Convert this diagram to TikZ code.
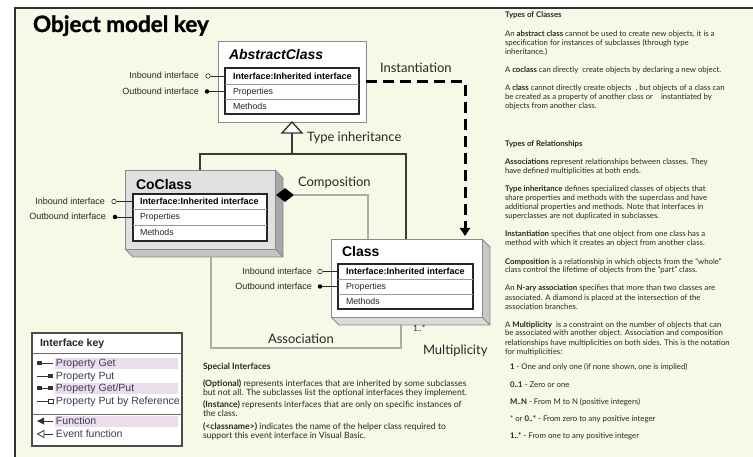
\documentclass[tikz,border=0pt]{standalone}
\usepackage{fontspec}
\setmainfont{Lato}
\newfontfamily\arialf{Liberation Sans}
\newfontfamily\titlef{Lato}[BoldFeatures={FakeBold=1.2}]
\usetikzlibrary{arrows.meta,shapes.geometric}
\definecolor{cream}{HTML}{F8F8E7}
\definecolor{framec}{HTML}{2E2E2E}
\definecolor{boxline}{HTML}{8A8A8A}
\definecolor{tabline}{HTML}{262626}
\definecolor{rowline}{HTML}{9A9A9A}
\definecolor{gline}{HTML}{ABABAB}
\definecolor{cofront}{HTML}{E0E0E0}
\definecolor{coright}{HTML}{A8A8A8}
\definecolor{cobottom}{HTML}{C4C4C4}
\definecolor{clright}{HTML}{C8C8C8}
\definecolor{clbottom}{HTML}{DADADA}
\definecolor{txt}{HTML}{262626}
\definecolor{keytxt}{HTML}{3B3B58}
\definecolor{keyhl}{HTML}{EBDDEB}
\definecolor{inhline}{HTML}{3A3A3A}
\newcommand\setfs[2]{\fontsize{#1}{#2}\selectfont}
\begin{document}
\begin{tikzpicture}[x=1pt,y=-1pt,
  plain/.style={inner sep=0pt, outer sep=0pt},
  biglbl/.style={plain, anchor=base west, font=\setfs{13}{15}, text=black!85},
  ifacelbl/.style={plain, anchor=base east, font=\arialf\setfs{9}{11}, text=txt},
  rowtxt/.style={plain, anchor=base west, font=\arialf\setfs{8.8}{10}, text=txt},
  rowbold/.style={plain, anchor=base west, font=\arialf\bfseries\setfs{9}{10}, text=black},
  clstitle/.style={plain, anchor=base west, font=\arialf\bfseries\setfs{14}{16}, text=black},
  tabbox/.style={plain, draw=tabline, line width=1.3pt, fill=white, anchor=north west},
  inport/.style={circle, draw=txt, fill=white, line width=0.6pt, inner sep=0pt, minimum size=4.5pt},
  outport/.style={circle, fill=black, inner sep=0pt, minimum size=4.5pt},
  portline/.style={draw=txt, line width=0.7pt},
  bodytxt/.style={plain, anchor=base west, align=left, font=\setfs{7.8}{9}, text=txt},
  bodyhead/.style={plain, anchor=base west, font=\bfseries\setfs{7.8}{9}, text=txt},
  sitxt/.style={plain, anchor=base west, align=left, font=\setfs{8.65}{9}, text=txt},
  keytext/.style={plain, anchor=base west, font=\arialf\setfs{10.5}{12}, text=keytxt},
  inhl/.style={draw=inhline, line width=1.4pt},
  compl/.style={draw=gline, line width=2pt},
  assocl/.style={draw=gline, line width=2pt},
  instl/.style={draw=black, line width=3pt, dash pattern=on 11pt off 6pt, -{Triangle[length=8pt,width=10pt]}},
]
\useasboundingbox (0,0) rectangle (753,457);
\fill[white] (0,0) rectangle (753,457);
\fill[cream] (15,8) rectangle (770,470);
\draw[framec, line width=2pt] (15,470) -- (15,8) -- (770,8);

% title
\node[plain, anchor=base west, font=\titlef\bfseries\setfs{22.5}{25}, text=black] (title) at (33,32) {Object model key};

% ---------- AbstractClass ----------
\node[plain, draw=boxline, line width=0.8pt, fill=white, minimum width=148pt, minimum height=81pt, anchor=north west] (abs) at (218,41) {};
\node[plain, anchor=base west, font=\arialf\bfseries\itshape\setfs{14}{16}, text=black] (abstitle) at (229,60) {AbstractClass};
\node[tabbox, minimum width=134pt, minimum height=46pt] (abst) at (225,68) {};
\draw[rowline, line width=0.6pt] (225,84) -- (359,84) (225,99) -- (359,99);
\node[rowbold] (abs1) at (233,79.2) {Interface:Inherited interface};
\node[rowtxt] (abs2) at (233,94.5) {Properties};
\node[rowtxt] (abs3) at (233,109.5) {Methods};
\node[inport] (absin) at (208,76) {};
\node[outport] (absout) at (207,91.5) {};
\draw[portline] (absin) -- (absin -| abst.west);
\draw[portline] (absout) -- (absout -| abst.west);
\node[ifacelbl] (absinl) at (199,79) {Inbound interface};
\node[ifacelbl] (absoutl) at (199,94.5) {Outbound interface};

% ---------- CoClass ----------
\fill[coright] (275,170) -- (283,178) -- (283,257) -- (275,249) -- cycle;
\fill[cobottom] (125,249) -- (275,249) -- (283,257) -- (133,257) -- cycle;
\draw[boxline, line width=0.8pt] (275,170) -- (283,178) -- (283,257) -- (133,257) -- (125,249) (275,249) -- (283,257);
\node[plain, minimum width=150pt, minimum height=79pt, anchor=north west] (coback) at (133,178) {};
\node[plain, draw=boxline, line width=0.8pt, fill=cofront, minimum width=150pt, minimum height=79pt, anchor=north west] (co) at (125,170) {};
\node[clstitle] (cotitle) at (136,190) {CoClass};
\node[tabbox, minimum width=134pt, minimum height=47pt] (cot) at (133,194) {};
\draw[rowline, line width=0.6pt] (133,209) -- (267,209) (133,225) -- (267,225);
\node[rowbold] (co1) at (140,204.7) {Interface:Inherited interface};
\node[rowtxt] (co2) at (140,220) {Properties};
\node[rowtxt] (co3) at (140,236) {Methods};
\node[inport] (coin) at (114,201.5) {};
\node[outport] (coout) at (115,217) {};
\draw[portline] (coin) -- (coin -| cot.west);
\draw[portline] (coout) -- (coout -| cot.west);
\node[ifacelbl] (coinl) at (105,204.5) {Inbound interface};
\node[ifacelbl] (cooutl) at (106,220) {Outbound interface};

% ---------- Class ----------
\fill[clright] (482,239) -- (490,247) -- (490,325) -- (482,317) -- cycle;
\fill[clbottom] (331,317) -- (482,317) -- (490,325) -- (339,325) -- cycle;
\draw[boxline, line width=0.8pt] (482,239) -- (490,247) -- (490,325) -- (339,325) -- (331,317) (482,317) -- (490,325);
\node[plain, minimum width=151pt, minimum height=78pt, anchor=north west] (clback) at (339,247) {};
\node[plain, draw=boxline, line width=0.8pt, fill=white, minimum width=151pt, minimum height=78pt, anchor=north west] (cl) at (331,239) {};
\node[clstitle] (cltitle) at (342,257) {Class};
\node[tabbox, minimum width=135pt, minimum height=45pt] (clt) at (338,264) {};
\draw[rowline, line width=0.6pt] (338,279) -- (473,279) (338,294) -- (473,294);
\node[rowbold] (cl1) at (346,274.7) {Interface:Inherited interface};
\node[rowtxt] (cl2) at (346,289.5) {Properties};
\node[rowtxt] (cl3) at (346,304.5) {Methods};
\node[inport] (clin) at (320,271.5) {};
\node[outport] (clout) at (320,286.5) {};
\draw[portline] (clin) -- (clin -| clt.west);
\draw[portline] (clout) -- (clout -| clt.west);
\node[ifacelbl] (clinl) at (312,274.5) {Inbound interface};
\node[ifacelbl] (cloutl) at (312,289.5) {Outbound interface};

% ---------- Type inheritance ----------
\coordinate (tib) at (292,133);
\coordinate (tiL) at (200,154);
\coordinate (tiR) at (406,154);
\draw[inhl] (tib) -- (tib |- tiL);
\draw[inhl] (co.north -| tiL) -- (tiL) -- (tiR) -- (tiR |- cl.north);
\draw[inhl, fill=white, line join=miter] (abs.south) -- ++(-10,11) -- ++(20,0) -- cycle;
\node[biglbl] (tilbl) at (307,142) {Type inheritance};

% ---------- Composition ----------
\node[diamond, fill=black, inner sep=0pt, minimum width=18pt, minimum height=14pt] (dia) at (285,195) {};
\coordinate (compR) at (368,195);
\draw[compl] (dia.east) -- (compR) -- (compR |- cl.north);
\node[biglbl] (complbl) at (298,187) {Composition};

% ---------- Instantiation ----------
\coordinate (instC) at (465,82);
\draw[instl, shorten >=3pt] (abs.east |- instC) -- (instC) -- (instC |- cl.north);
\node[biglbl] (instlbl) at (380,73) {Instantiation};

% ---------- Association ----------
\coordinate (asL) at (211,348);
\coordinate (asR) at (401,348);
\draw[assocl] (coback.south -| asL) -- (asL) -- (asR) -- (asR |- clback.south);
\node[biglbl] (aslbl) at (268,344) {Association};
\node[plain, anchor=base west, font=\setfs{8.5}{10}, text=txt] (mult1) at (413,331) {1..*};
\node[biglbl] (multlbl) at (423,355) {Multiplicity};

% ---------- Interface key ----------
\node[plain, draw=black!70, line width=1.2pt, fill=white, minimum width=150pt, minimum height=113pt, anchor=north west] (key) at (32,333) {};
\fill[keyhl] (55,357.5) rectangle (178,368.5);
\fill[keyhl] (55,382.5) rectangle (178,393.5);
\fill[keyhl] (55,415.5) rectangle (178,426.5);
\node[plain, anchor=base west, font=\arialf\bfseries\setfs{10.5}{12}, text=black!85] (keyt) at (40,347) {Interface key};
\draw[black!60, line width=0.8pt] (key.west |- 0,353) -- (key.east |- 0,353);
\draw[black!60, line width=0.8pt] (key.west |- 0,414) -- (key.east |- 0,414);
\begin{scope}[line width=1pt, black!80]
\fill (37,361) rectangle (42,365); \draw (42,363) -- (53,363);
\draw (37,376) -- (48,376); \fill (48,374) rectangle (53,378);
\fill (37,386) rectangle (42,390); \draw (42,388) -- (48,388); \fill (48,386) rectangle (53,390);
\draw (37,401) -- (48.5,401); \draw[line width=0.8pt, fill=white] (48.5,399) rectangle (53,403);
\fill (37,421) -- (44,417.5) -- (44,424.5) -- cycle; \draw (44,421) -- (53,421);
\draw[line width=0.8pt, fill=white] (37.5,434) -- (44,430.5) -- (44,437.5) -- cycle; \draw (44,434) -- (53,434);
\end{scope}
\node[keytext] (k1) at (56,366.7) {Property Get};
\node[keytext] (k2) at (56,379.7) {Property Put};
\node[keytext] (k3) at (56,391.7) {Property Get/Put};
\node[keytext] (k4) at (56,404.7) {Property Put by Reference};
\node[keytext] (k5) at (56,424.7) {Function};
\node[keytext] (k6) at (56,437.7) {Event function};

% ---------- Special interfaces (anchor = baseline of last line) ----------
\node[plain, anchor=base west, font=\bfseries\setfs{8.65}{9}, text=txt] (sih) at (203,370) {Special Interfaces};
\node[sitxt] (si1) at (203,395) {\textbf{(Optional)} represents interfaces that are inherited by some subclasses\\but not all. The subclasses list the optional interfaces they implement.};
\node[sitxt] (si2) at (203,416) {\textbf{(Instance)} represents interfaces that are only on specific instances of\\the class.};
\node[sitxt] (si3) at (203,438) {\textbf{(<classname>)} indicates the name of the helper class required to\\support this event interface in Visual Basic.};

% ---------- Right column (anchor = baseline of last line) ----------
\node[bodyhead] (tch) at (505,18) {Types of Classes};
\node[bodytxt] (tc1) at (505,55) {An \textbf{abstract class} cannot be used to create new objects, it is a\\specification for instances of subclasses (through type\\inheritance.)};
\node[bodytxt] (tc2) at (505,73) {A \textbf{coclass} can directly\ \ create objects by declaring a new object.};
\node[bodytxt] (tc3) at (505,109) {A \textbf{class} cannot directly create objects\ \ , but objects of a class can\\be created as a property of another class or\ \ \ \ instantiated by\\objects from another class.};
\node[bodyhead] (trh) at (505,147) {Types of Relationships};
\node[bodytxt] (tr1) at (505,174) {\textbf{Associations} represent relationships between classes. They\\have defined multiplicities at both ends.};
\node[bodytxt] (tr2) at (505,219) {\textbf{Type inheritance} defines specialized classes of objects that\\share properties and methods with the superclass and have\\additional properties and methods. Note that interfaces in\\superclasses are not duplicated in subclasses.};
\node[bodytxt] (tr3) at (505,246) {\textbf{Instantiation} specifies that one object from one class has a\\method with which it creates an object from another class.};
\node[bodytxt] (tr4) at (505,273) {\textbf{Composition} is a relationship in which objects from the “whole”\\class control the lifetime of objects from the “part” class.};
\node[bodytxt] (tr5) at (505,309) {An \textbf{N-ary association} specifies that more than two classes are\\associated. A diamond is placed at the intersection of the\\association branches.};
\node[bodytxt] (tr6) at (505,354) {A \textbf{Multiplicity}\ \ is a constraint on the number of objects that can\\be associated with another object. Association and composition\\relationships have multiplicities on both sides. This is the notation\\for multiplicities:};
\node[bodytxt] (m1) at (510,370) {\textbf{1} - One and only one (if none shown, one is implied)};
\node[bodytxt] (m2) at (510,387) {\textbf{0..1} - Zero or one};
\node[bodytxt] (m3) at (510,404) {\textbf{M..N} - From M to N (positive integers)};
\node[bodytxt] (m4) at (510,421) {* or \textbf{0..*} - From zero to any positive integer};
\node[bodytxt] (m5) at (510,438) {\textbf{1..*} - From one to any positive integer};
\end{tikzpicture}
\end{document}
